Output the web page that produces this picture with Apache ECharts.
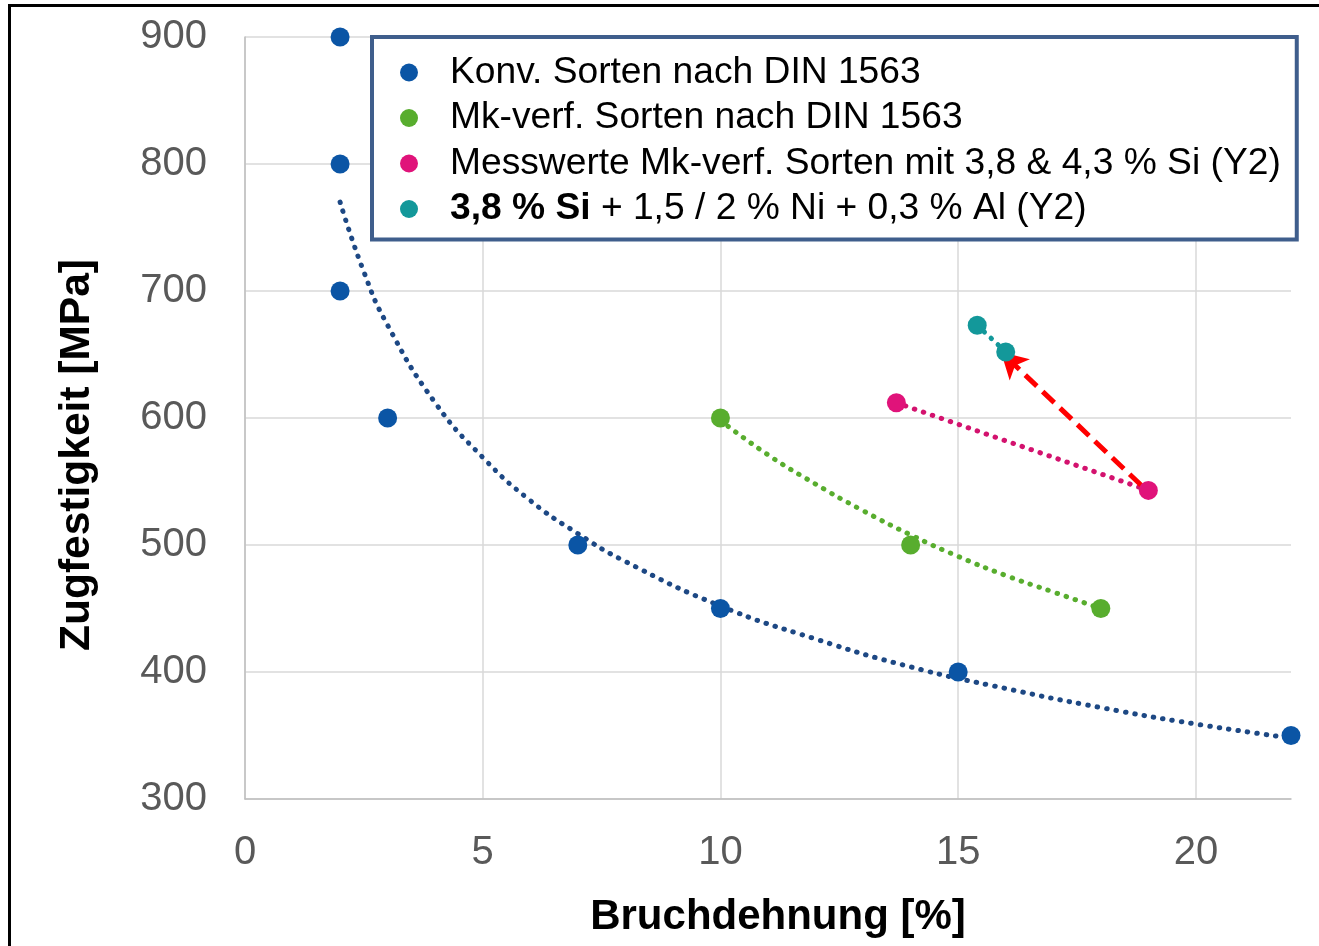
<!DOCTYPE html>
<html>
<head>
<meta charset="utf-8">
<script src="https://cdn.jsdelivr.net/npm/echarts@6/dist/echarts.min.js"></script>
<style>
html,body{margin:0;padding:0;background:#fff;}
#chart{width:1319px;height:946px;}
</style>
</head>
<body>
<div id="chart"></div>
<script>
// ---- data ----
const seriesNames = [
  'Konv. Sorten nach DIN 1563',
  'Mk-verf. Sorten nach DIN 1563',
  'Messwerte Mk-verf. Sorten mit 3,8 & 4,3 % Si (Y2)',
  '3,8 % Si + 1,5 / 2 % Ni + 0,3 % Al (Y2)'
];
const konvX = [2, 2, 2, 3, 7, 10, 15, 22];
const konvY = [900, 800, 700, 600, 500, 450, 400, 350];
const mkX = [10, 14, 18];
const mkY = [600, 500, 450];
const messX = [13.7, 19];
const messY = [612, 543];
const niX = [15.4, 16];
const niY = [673, 652];

// trend lines (dotted)
const konvTrendX = [2, 2.5, 3, 4, 5, 6, 7, 8, 10, 12, 14, 16, 18, 20, 22];
const konvTrendY = [770, 715, 673, 612, 569, 535, 509, 487, 452, 426, 404, 387, 372, 359, 348];
const mkTrendX = [10, 11, 12, 13, 14, 15, 16, 17, 18];
const mkTrendY = [598, 571, 548, 527, 508, 491, 476, 463, 450];
const messTrendX = [13.7, 19];
const messTrendY = [612, 543];
const niTrendX = [15.4, 16];
const niTrendY = [673, 652];

// red arrow (start -> end)
const arrowFrom = [18.85, 547];
const arrowTo = [15.9, 652];

const xTicks = [0, 5, 10, 15, 20];
const yTicks = [300, 400, 500, 600, 700, 800, 900];

const colors = ['#0b55a5', '#58ad2e', '#e0137a', '#13989a'];
const trendColors = ['#1d4884', '#58ad2e', '#d3126e', '#13989a'];

const zip = (xs, ys) => xs.map((x, i) => [x, ys[i]]);
const FONT = '"Liberation Sans", Arial, sans-serif';

const dotted = c => ({ color: c, width: 5, type: [0.5, 9], cap: 'round' });

const option = {
  animation: false,
  backgroundColor: '#fff',
  grid: { left: 245, right: 28, top: 37, bottom: 147, containLabel: false },
  xAxis: {
    type: 'value', min: 0, max: 22, interval: 5,
    name: 'Bruchdehnung [%]', nameLocation: 'middle', nameGap: 97,
    nameTextStyle: { fontFamily: FONT, fontSize: 42, fontWeight: 'bold', color: '#000', padding: [0, 0, 0, 20] },
    axisLine: { show: true, lineStyle: { color: '#bfbfbf', width: 1.5 } },
    axisTick: { show: false },
    axisLabel: { fontFamily: FONT, fontSize: 40, color: '#595959', margin: 34, showMaxLabel: false,
      formatter: v => xTicks.includes(v) ? String(v) : '' },
    splitLine: { show: true, showMaxLine: false, lineStyle: { color: '#d9d9d9', width: 1.5 } }
  },
  yAxis: {
    type: 'value', min: 300, max: 900, interval: 100,
    name: 'Zugfestigkeit [MPa]', nameLocation: 'middle', nameGap: 146,
    nameTextStyle: { fontFamily: FONT, fontSize: 42.5, fontWeight: 'bold', color: '#000', padding: [0, 74, 0, 0] },
    axisLine: { show: true, lineStyle: { color: '#bfbfbf', width: 1.5 } },
    axisTick: { show: false },
    axisLabel: { fontFamily: FONT, fontSize: 40, color: '#595959', margin: 38,
      formatter: v => yTicks.includes(v) ? String(v) : '' },
    splitLine: { show: true, lineStyle: { color: '#d9d9d9', width: 1.5 } }
  },
  legend: {
    data: seriesNames.map(n => ({ name: n, icon: 'circle' })),
    orient: 'vertical',
    left: 372, top: 37,
    itemWidth: 18, itemHeight: 18, itemGap: 8.5,
    padding: [17, 16, 12, 28],
    backgroundColor: '#fff',
    borderColor: '#3f5e8c', borderWidth: 4,
    selectedMode: false,
    formatter: name => name.startsWith('3,8 % Si') ? '{b|3,8 % Si}' + name.slice(8) : name,
    textStyle: {
      fontFamily: FONT, fontSize: 37.2, color: '#000', lineHeight: 36,
      padding: [0, 0, 0, 27],
      rich: { b: { fontFamily: FONT, fontSize: 37.2, fontWeight: 'bold', color: '#000', lineHeight: 36 } }
    }
  },
  graphic: [{
    type: 'rect', z: 100, silent: true,
    shape: { x: 9.5, y: 5.5, width: 1400, height: 1000 },
    style: { fill: 'none', stroke: '#000', lineWidth: 3 }
  }],
  series: [
    { type: 'line', name: 'trend0', data: zip(konvTrendX, konvTrendY), smooth: true, showSymbol: false, silent: true, lineStyle: dotted(trendColors[0]), z: 2 },
    { type: 'line', name: 'trend1', data: zip(mkTrendX, mkTrendY), smooth: true, showSymbol: false, silent: true, lineStyle: dotted(trendColors[1]), z: 2 },
    { type: 'line', name: 'trend2', data: zip(messTrendX, messTrendY), showSymbol: false, silent: true, lineStyle: dotted(trendColors[2]), z: 2 },
    { type: 'line', name: 'trend3', data: zip(niTrendX, niTrendY), showSymbol: false, silent: true, lineStyle: dotted(trendColors[3]), z: 2 },
    { type: 'scatter', name: seriesNames[0], data: zip(konvX, konvY), symbolSize: 19, itemStyle: { color: colors[0], opacity: 1 }, z: 5 },
    { type: 'scatter', name: seriesNames[1], data: zip(mkX, mkY), symbolSize: 19, itemStyle: { color: colors[1], opacity: 1 }, z: 5 },
    { type: 'scatter', name: seriesNames[2], data: zip(messX, messY), symbolSize: 19, itemStyle: { color: colors[2], opacity: 1 }, z: 5,
      markLine: {
        silent: true, symbol: ['none', 'arrow'], symbolSize: [22, 26],
        label: { show: false },
        lineStyle: { color: '#ff0000', width: 5, type: [16, 8], curveness: 0.07, opacity: 1 },
        data: [[{ coord: arrowFrom }, { coord: arrowTo }]]
      }
    },
    { type: 'scatter', name: seriesNames[3], data: zip(niX, niY), symbolSize: 19, itemStyle: { color: colors[3], opacity: 1 }, z: 5 }
  ]
};

const chart = echarts.init(document.getElementById('chart'), null, { renderer: 'canvas' });
chart.setOption(option);
</script>
</body>
</html>
